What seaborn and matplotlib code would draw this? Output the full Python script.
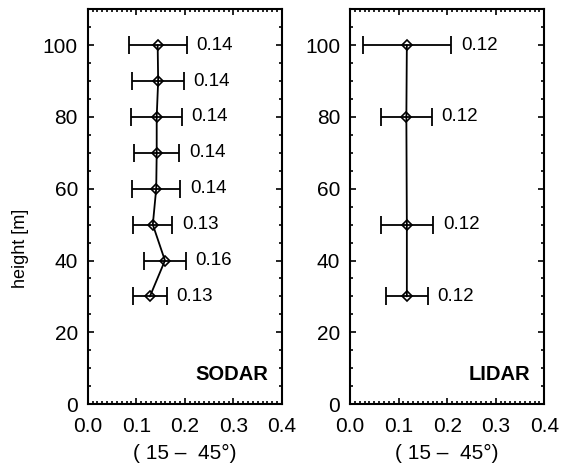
import numpy as np
import matplotlib
matplotlib.use('Agg')
import matplotlib.pyplot as plt
import seaborn as sns
from matplotlib.ticker import MultipleLocator

# dados
sodar_altura = [100, 90, 80, 70, 60, 50, 40, 30]
sodar_valor = [0.144, 0.145, 0.142, 0.142, 0.141, 0.134, 0.159, 0.128]
sodar_erro = [0.060, 0.053, 0.052, 0.046, 0.050, 0.040, 0.043, 0.035]
sodar_rotulo = ['0.14', '0.14', '0.14', '0.14', '0.14', '0.13', '0.16', '0.13']

lidar_altura = [100, 80, 50, 30]
lidar_valor = [0.117, 0.116, 0.117, 0.117]
lidar_erro = [0.091, 0.052, 0.054, 0.043]
lidar_rotulo = ['0.12', '0.12', '0.12', '0.12']

sns.set_style('ticks')
plt.rcParams['font.family'] = ['Liberation Sans', 'DejaVu Sans']
plt.rcParams['axes.linewidth'] = 1.5
plt.rcParams['text.color'] = 'black'
plt.rcParams['axes.labelcolor'] = 'black'
plt.rcParams['xtick.color'] = 'black'
plt.rcParams['ytick.color'] = 'black'
plt.rcParams['axes.edgecolor'] = 'black'

fig = plt.figure(figsize=(5.67, 4.65), dpi=100)
ax1 = fig.add_axes([0.1547, 0.131, 0.3427, 0.849])
ax2 = fig.add_axes([0.6173, 0.131, 0.3427, 0.849])


def painel(ax, altura, valor, erro, rotulo, nome):
    ax.errorbar(valor, altura, xerr=erro, fmt='none', ecolor='k',
                elinewidth=1.3, capsize=6.5, capthick=1.3, zorder=2)
    sns.lineplot(x=valor, y=altura, orient='y', sort=True, ax=ax,
                 color='k', linewidth=1.3, marker='D', markersize=5,
                 markerfacecolor='none', markeredgecolor='k',
                 markeredgewidth=1.2, zorder=3)
    for v, e, h, r in zip(valor, erro, altura, rotulo):
        ax.annotate(r, (v + e, h), xytext=(7, 0), textcoords='offset points',
                    va='center', ha='left', fontsize=13.5, color='k')
    ax.text(0.93, 0.075, nome, transform=ax.transAxes, ha='right', va='center',
            fontsize=14.5, fontweight='bold', color='k')
    ax.set_xlim(0, 0.4)
    ax.set_ylim(0, 110)
    ax.xaxis.set_major_locator(MultipleLocator(0.1))
    ax.xaxis.set_minor_locator(MultipleLocator(0.01))
    ax.yaxis.set_major_locator(MultipleLocator(20))
    ax.yaxis.set_minor_locator(MultipleLocator(5))
    ax.set_yticks([0, 20, 40, 60, 80, 100])
    ax.set_xticks([0.0, 0.1, 0.2, 0.3, 0.4])
    ax.set_xticklabels(['0.0', '0.1', '0.2', '0.3', '0.4'])
    ax.tick_params(which='both', direction='in', top=True, right=True,
                   labelsize=15, width=1.2, color='k', labelcolor='k')
    ax.tick_params(which='major', length=4.5)
    ax.tick_params(which='minor', length=2)
    ax.tick_params(axis='x', pad=9)
    ax.tick_params(axis='y', pad=7)
    ax.set_xlabel('( 15 \u2013  45\u00b0)', fontsize=15, labelpad=6)
    ax.set_ylabel('')
    for s in ax.spines.values():
        s.set_visible(True)
        s.set_color('k')


painel(ax1, sodar_altura, sodar_valor, sodar_erro, sodar_rotulo, 'SODAR')
painel(ax2, lidar_altura, lidar_valor, lidar_erro, lidar_rotulo, 'LIDAR')
ax1.set_ylabel('height [m]', fontsize=13)
ax1.yaxis.set_label_coords(-0.30, 0.395)

fig.savefig('out.png', dpi=100)
